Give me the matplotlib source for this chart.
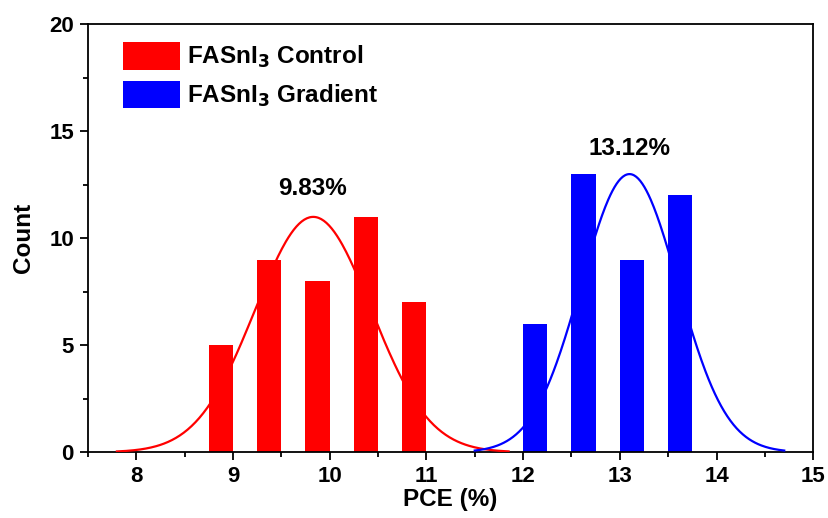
import numpy as np
import matplotlib.pyplot as plt
from matplotlib.ticker import MultipleLocator

plt.rcParams['font.family'] = ['Liberation Sans', 'DejaVu Sans']
plt.rcParams['font.weight'] = 'bold'
plt.rcParams['mathtext.default'] = 'bf'

# histogram bins (left edge) and counts
control_bins = [8.75, 9.25, 9.75, 10.25, 10.75]
control_counts = [5, 9, 8, 11, 7]
gradient_bins = [12.0, 12.5, 13.0, 13.5]
gradient_counts = [6, 13, 9, 12]
bar_width = 0.25

# gaussian fit parameters (center, amplitude, sigma, x range)
control_fit = (9.83, 11.0, 0.60, 7.8, 11.85)
gradient_fit = (13.1, 13.0, 0.50, 11.5, 14.7)
control_label = '9.83%'
gradient_label = '13.12%'

def gauss_curve(fit):
    c, a, s, x0, x1 = fit
    x = np.linspace(x0, x1, 300)
    return x, a*np.exp(-(x-c)**2/(2*s**2))

fig = plt.figure(figsize=(8.29, 5.18), dpi=100)
ax = fig.add_axes([0.106, 0.127, 0.875, 0.826])

ax.bar(control_bins, control_counts, width=bar_width, align='edge', color='#ff0000',
       label=r'FASnI$_3$ Control', zorder=2)
ax.bar(gradient_bins, gradient_counts, width=bar_width, align='edge', color='#0000ff',
       label=r'FASnI$_3$ Gradient', zorder=2)

xc, yc = gauss_curve(control_fit)
ax.plot(xc, yc, color='#ff0000', lw=1.6, zorder=3)
xg, yg = gauss_curve(gradient_fit)
ax.plot(xg, yg, color='#0000ff', lw=1.6, zorder=3)

ax.text(9.82, 12.0, control_label, ha='center', va='baseline', fontsize=17.5, fontweight='bold')
ax.text(13.1, 13.9, gradient_label, ha='center', va='baseline', fontsize=17.5, fontweight='bold')

ax.set_xlim(7.5, 15)
ax.set_ylim(0, 20)
ax.xaxis.set_major_locator(MultipleLocator(1))
ax.xaxis.set_minor_locator(MultipleLocator(0.5))
ax.yaxis.set_major_locator(MultipleLocator(5))
ax.yaxis.set_minor_locator(MultipleLocator(2.5))
ax.tick_params(which='major', direction='out', length=6, width=1.3, labelsize=16, pad=4)
ax.tick_params(which='minor', direction='out', length=3.5, width=1.3)
for sp in ax.spines.values():
    sp.set_linewidth(1.3)

ax.set_xlabel('PCE (%)', fontsize=17.5, fontweight='bold', labelpad=1)
ax.set_ylabel('Count', fontsize=17.5, fontweight='bold', labelpad=10)

leg = ax.legend(loc='upper left', frameon=False, fontsize=17.5, handlelength=2.35, handleheight=1.35,
                borderaxespad=0, borderpad=0, bbox_to_anchor=(0.048, 0.958),
                handletextpad=0.3, labelspacing=0.45)

fig.savefig('out.png', dpi=100)
